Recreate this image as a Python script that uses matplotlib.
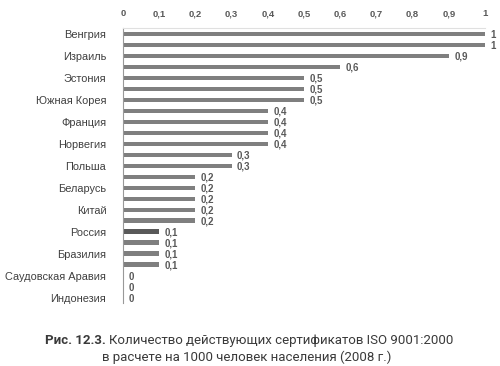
import matplotlib
matplotlib.use("Agg")
import matplotlib.pyplot as plt
import numpy as np

# 25 bars, only every other one is labelled in the source
labels = ["Венгрия", "", "Израиль", "", "Эстония", "", "Южная Корея", "",
          "Франция", "", "Норвегия", "", "Польша", "", "Беларусь", "",
          "Китай", "", "Россия", "", "Бразилия", "", "Саудовская Аравия", "",
          "Индонезия"]
values = [1, 1, 0.9, 0.6, 0.5, 0.5, 0.5, 0.4, 0.4, 0.4, 0.4, 0.3, 0.3,
          0.2, 0.2, 0.2, 0.2, 0.2, 0.1, 0.1, 0.1, 0.1, 0, 0, 0]
highlight = 18  # Россия
xticks = [0, 0.1, 0.2, 0.3, 0.4, 0.5, 0.6, 0.7, 0.8, 0.9, 1]

plt.rcParams['font.family'] = ['Liberation Sans', 'DejaVu Sans']

fig = plt.figure(figsize=(5, 3.66), dpi=100)
ax = fig.add_axes([0.246, 0.172, 0.724, 0.751])

y = np.arange(len(values))
colors = ['#7f7f7f'] * len(values)
colors[highlight] = '#595959'
ax.barh(y, values, height=0.38, color=colors)

for yi, v in zip(y, values):
    txt = ('%g' % v).replace('.', ',')
    ax.text(v + 0.015, yi + 0.1, txt, va='center', ha='left',
            fontsize=7, fontweight='bold', color='#595959')

ax.set_ylim(len(values) - 0.5, -0.5)
ax.set_xlim(0, 1)
ax.set_yticks(y)
ax.set_yticklabels(labels, fontsize=7.9, color='#404040')
ax.set_xticks(xticks)
ax.set_xticklabels([('%g' % t).replace('.', ',') for t in xticks],
                   fontsize=6.8, fontweight='bold', color='#595959')
ax.xaxis.tick_top()
ax.tick_params(axis='x', length=0, pad=7)
ax.tick_params(axis='y', length=0, pad=12)

for s in ['right', 'bottom']:
    ax.spines[s].set_visible(False)
ax.spines['top'].set_color('#e0e0e0')
ax.spines['left'].set_color('#999999')
ax.spines['left'].set_linewidth(0.8)

# caption: bold prefix followed by regular text, centred as one line
cap_font = ['Roboto', 'DejaVu Sans']
part1 = "Рис. 12.3. "
part2 = "Количество действующих сертификатов ISO 9001:2000"
t1 = fig.text(0, 0.07, part1, fontsize=9.5, fontweight='bold', color='#3a3a3a',
              family=cap_font, va='center')
t2 = fig.text(0, 0.07, part2, fontsize=9.5, color='#3a3a3a',
              family=cap_font, va='center')
fig.canvas.draw()
r = fig.canvas.get_renderer()
w1 = t1.get_window_extent(r).width / fig.bbox.width
w2 = t2.get_window_extent(r).width / fig.bbox.width
x0 = 0.498 - (w1 + w2) / 2
t1.set_x(x0)
t2.set_x(x0 + w1)
fig.text(0.494, 0.025, "в расчете на 1000 человек населения (2008 г.)",
         fontsize=9.5, color='#3a3a3a', family=cap_font,
         ha='center', va='center')

fig.savefig("out.png", dpi=100)
